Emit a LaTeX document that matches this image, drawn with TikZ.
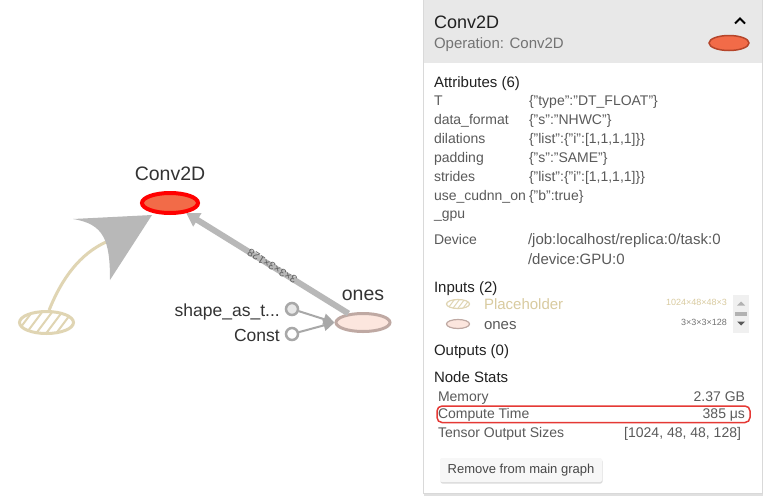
\documentclass[tikz,border=0pt]{standalone}
\usepackage{fontspec}
\setmainfont{Liberation Sans}
\usetikzlibrary{shapes.geometric,arrows.meta}
\newcommand\myfs[1]{\fontsize{#1}{#1}\selectfont}
\definecolor{convfill}{HTML}{F26B48}
\definecolor{convred}{HTML}{FF0000}
\definecolor{tanc}{HTML}{E0D5B3}
\definecolor{tantext}{HTML}{D9CBA0}
\definecolor{onesfill}{HTML}{FCE6DE}
\definecolor{onesdraw}{HTML}{BFA9A3}
\definecolor{edgegray}{HTML}{B8B8B8}
\definecolor{smallgray}{HTML}{A8A8A8}
\definecolor{keygray}{HTML}{5A5A5A}
\definecolor{darkt}{HTML}{212121}
\definecolor{hdrbg}{HTML}{E8E8E8}
\definecolor{hdrellb}{HTML}{B5452A}
\definecolor{hlred}{HTML}{E53935}
\begin{document}
\begin{tikzpicture}[x=1pt,y=-1pt,
  txt/.style={anchor=base west, inner sep=0pt, outer sep=0pt, text=keygray, font=\myfs{14}},
  hd/.style={txt, text=darkt, font=\myfs{15}},
  rtxt/.style={anchor=base east, inner sep=0pt, outer sep=0pt, text=keygray, font=\myfs{14}},
  glab/.style={inner sep=0pt, text=black!80, font=\myfs{17.5}},
  hatchbig/.style={path picture={\foreach \k in {-70,-60,...,70}{\draw[tanc, line width=2] ([xshift=\k pt]path picture bounding box.south) ++(-12,2) -- ++(30,-40);}}},
  hatchsmall/.style={path picture={\foreach \k in {-30,-25,...,30}{\draw[tanc, line width=1] ([xshift=\k pt]path picture bounding box.south) ++(-6,1) -- ++(15,-20);}}},
  bigedge/.style={draw=edgegray, line width=6, -{Triangle[length=13pt,width=15pt]}},
  smalledge/.style={draw=smallgray, line width=2, -{Triangle[length=11pt,width=11pt]}},
  tanedge/.style={draw=tanc, line width=3}
]
\useasboundingbox (0,0) rectangle (763,499);
\fill[white] (0,0) rectangle (763,499);

% ---------------- graph ----------------
\node[ellipse, draw=convred, line width=4, fill=convfill, minimum width=56, minimum height=20, inner sep=0] (conv) at (170,203) {};
\node[glab, font=\myfs{19.5}] (convlab) at (170,174) {Conv2D};
\node[ellipse, draw=tanc, line width=3, fill=white, minimum width=54, minimum height=22, inner sep=0, hatchbig] (ph) at (46.5,322.5) {};
\node[ellipse, draw=onesdraw, line width=3, fill=onesfill, minimum width=54, minimum height=18, inner sep=0] (ones) at (363,322.5) {};
\node[glab, font=\myfs{19.5}] (oneslab) at (363,295) {ones};
\node[circle, draw=smallgray, line width=2.5, fill=hdrbg, minimum size=12, inner sep=0] (shp) at (292,309) {};
\node[circle, draw=smallgray, line width=2.5, fill=white, minimum size=12, inner sep=0] (cst) at (292,334) {};
\node[glab, anchor=base east] (shplab) at (280,316) {shape\_as\_t...};
\node[glab, anchor=base east] (cstlab) at (280,341) {Const};

\coordinate (tanend) at (106,242);
\draw[tanedge] (ph.78) .. controls (62,278) and (80,254) .. (tanend);
\fill[edgegray] (73,219) -- (152,215) -- (110,280) .. controls (110,240) and (104,224) .. (73,219) -- cycle;

\draw[bigedge] (ones) -- (conv) node[pos=0.47, sloped, allow upside down, inner sep=0, font=\myfs{11}, text=black!62] (elab) {3×3×3×128};
\draw[smalledge] (shp) -- (ones.west);
\draw[smalledge] (cst) -- (ones.west);

% ---------------- panel ----------------
\fill[black!12] (424,1.5) rectangle (763,495.5);
\filldraw[fill=white, draw=black!15] (423,0) rectangle (762,493);
\fill[hdrbg] (423.5,0) rectangle (761.5,63);
\node[txt, text=darkt, font=\myfs{18}] (ptitle) at (434,28.5) {Conv2D};
\node[txt, text=black!55, font=\myfs{15}] (pop) at (434,48.5) {Operation: Conv2D};
\draw[black, line width=1.8] (735,23.5) -- (740,18.5) -- (745,23.5);
\node[ellipse, draw=hdrellb, line width=1.5, fill=convfill, minimum width=40, minimum height=15, inner sep=0] (hdrell) at (729,43) {};

\node[hd] (attr) at (434,87) {Attributes (6)};
\node[txt] (k1) at (434,105) {T};
\node[txt] (k2) at (434,124) {data\_format};
\node[txt] (k3) at (434,143) {dilations};
\node[txt] (k4) at (434,162) {padding};
\node[txt] (k5) at (434,181) {strides};
\node[txt] (k6) at (434,200) {use\_cudnn\_on};
\node[txt] (k7) at (434,218) {\_gpu};
\node[txt] (v1) at (529,105) {\{"type":"DT\_FLOAT"\}};
\node[txt] (v2) at (529,124) {\{"s":"NHWC"\}};
\node[txt] (v3) at (529,143) {\{"list":\{"i":[1,1,1,1]\}\}};
\node[txt] (v4) at (529,162) {\{"s":"SAME"\}};
\node[txt] (v5) at (529,181) {\{"list":\{"i":[1,1,1,1]\}\}};
\node[txt] (v6) at (529,200) {\{"b":true\}};

\node[txt] (dev) at (434,244) {Device};
\node[txt, font=\myfs{15}] (dev1) at (528,244) {/job:localhost/replica:0/task:0};
\node[txt, font=\myfs{15}] (dev2) at (528,264) {/device:GPU:0};

\node[hd] (inp) at (434,292) {Inputs (2)};
\node[ellipse, draw=tanc, line width=1.2, fill=white, minimum width=23, minimum height=9, inner sep=0, hatchsmall] (iph) at (458,304) {};
\node[ellipse, draw=onesdraw, line width=1.2, fill=onesfill, minimum width=23, minimum height=9, inner sep=0] (iones) at (458,324) {};
\node[txt, text=tantext, font=\myfs{15}] (iphl) at (484,309.5) {Placeholder};
\node[txt, font=\myfs{15}] (ionesl) at (484,329.5) {ones};
\node[rtxt, text=tantext, font=\myfs{9}] (iphs) at (727,305) {1024×48×48×3};
\node[rtxt, text=black!55, font=\myfs{9}] (ioness) at (727,325) {3×3×3×128};
\fill[black!6] (733,295) rectangle (749,333);
\fill[black!30] (737,305.5) -- (741,301.5) -- (745,305.5) -- cycle;
\fill[black!30] (735,312) rectangle (747,315.5);
\fill[black!65] (737,321.5) -- (745,321.5) -- (741,325.5) -- cycle;

\node[hd] (outp) at (434,355) {Outputs (0)};
\node[hd] (nst) at (434,382) {Node Stats};
\node[txt] (mem) at (438,401) {Memory};
\node[rtxt] (memv) at (745,401) {2.37 GB};
\node[txt] (ct) at (438,418) {Compute Time};
\node[rtxt] (ctv) at (745,418) {385 μs};
\node[txt] (tos) at (438,437) {Tensor Output Sizes};
\node[rtxt] (tosv) at (741,437) {[1024, 48, 48, 128]};
\draw[hlred, line width=1.5, rounded corners=5] (437,406) rectangle (750,422.5);

\fill[black!14, rounded corners=2] (440.5,459.5) rectangle (602.5,483.5);
\fill[black!3, rounded corners=2] (440,458) rectangle (602,482);
\node[inner sep=0, text=black!72, font=\myfs{13}] (btn) at (521,470) {Remove from main graph};
\end{tikzpicture}
\end{document}
